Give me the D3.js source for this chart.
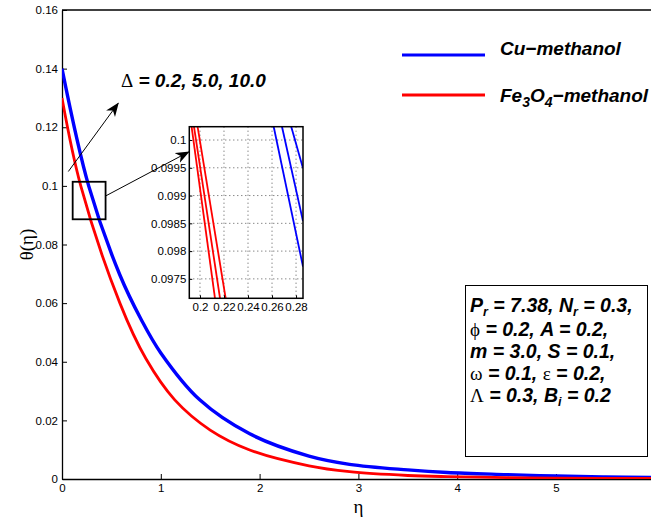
<!DOCTYPE html>
<html><head><meta charset="utf-8">
<script src="https://cdn.jsdelivr.net/npm/d3@7"></script>
<style>body{margin:0;background:#fff} svg{display:block}</style>
</head><body>
<svg id="c" width="651" height="521"></svg>
<script>
// ---- data ----
const etaCu   = [0, 0.27, 0.586, 0.8, 1.0, 1.394, 1.9, 2.5, 2.91, 3.5, 3.9, 4.5, 5.0, 5.5, 6.0];
const thetaCu = [0.140, 0.100, 0.0696, 0.0545, 0.0430, 0.0270, 0.0154, 0.0078, 0.0050, 0.0031, 0.0022, 0.0015, 0.0010, 0.0007, 0.0005];
const etaFe   = [0, 0.19, 0.586, 0.85, 1.141, 1.5, 1.9, 2.5, 2.91, 3.5, 3.9, 4.5, 5.0, 6.0];
const thetaFe = [0.130, 0.100, 0.0600, 0.0410, 0.0270, 0.0167, 0.0099, 0.0045, 0.0025, 0.0012, 0.0008, 0.0005, 0.0003, 0.0002];
const deltaValues = ["0.2", "5.0", "10.0"];
// inset (zoomed) lines, one per Delta value: [eta, theta] end points
const insetCu = [[[0.2614, 0.10024], [0.2858, 0.09772]],
                 [[0.2683, 0.10024], [0.2858, 0.09854]],
                 [[0.2760, 0.10024], [0.2858, 0.09949]]];
const insetFe = [[[0.1930, 0.10024], [0.2125, 0.09715]],
                 [[0.1950, 0.10024], [0.2167, 0.09715]],
                 [[0.1980, 0.10024], [0.2214, 0.09715]]];
const xTicks = [0, 1, 2, 3, 4, 5];
const xTickLabels = ["0", "1", "2", "3", "4", "5"];
const yTicks = [0, 0.02, 0.04, 0.06, 0.08, 0.1, 0.12, 0.14, 0.16];
const yTickLabels = ["0", "0.02", "0.04", "0.06", "0.08", "0.1", "0.12", "0.14", "0.16"];
const insetXTicks = [0.2, 0.22, 0.24, 0.26, 0.28];
const insetXLabels = ["0.2", "0.22", "0.24", "0.26", "0.28"];
const insetYTicks = [0.0975, 0.098, 0.0985, 0.099, 0.0995, 0.1];
const insetYLabels = ["0.0975", "0.098", "0.0985", "0.099", "0.0995", "0.1"];
const zoomRegion = {eta: [0.108, 0.441], theta: [0.0886, 0.1014]};
const arrowDelta = [[0.064, 0.1049], [0.569, 0.1282]];
const arrowZoom  = [[0.444, 0.0966], [1.283, 0.1116]];
const legendNames = ["Cu−methanol", "Fe3O4−methanol"];
const colors = ["#0000ff", "#ff0000"];

// ---- drawing ----
const svg = d3.select("#c");
const SANS = "'Liberation Sans', Arial, Helvetica, sans-serif";
const SERIF = "'Liberation Serif', 'Times New Roman', serif";
const x = d3.scaleLinear().domain([0, 6]).range([62, 654.8]);
const y = d3.scaleLinear().domain([0, 0.16]).range([479, 10]);

const defs = svg.append("defs");
defs.append("clipPath").attr("id", "plotClip").append("rect")
  .attr("x", x(0)).attr("y", y(0.16)).attr("width", x(6) - x(0)).attr("height", y(0) - y(0.16));
defs.append("marker").attr("id", "ah").attr("viewBox", "0 -6 14 12")
  .attr("refX", 13).attr("refY", 0).attr("markerWidth", 14).attr("markerHeight", 12)
  .attr("markerUnits", "userSpaceOnUse").attr("orient", "auto")
  .append("path").attr("d", "M0,-5.5L14,0L0,5.5L4,0Z").attr("fill", "#000");

// axes
const yAxis = d3.axisLeft(y).tickValues(yTicks).tickFormat((d, i) => yTickLabels[i])
  .tickSizeInner(-5).tickSizeOuter(0).tickPadding(4);
const xAxis = d3.axisBottom(x).tickValues(xTicks).tickFormat((d, i) => xTickLabels[i])
  .tickSizeInner(-5).tickSizeOuter(0).tickPadding(5);
const gy = svg.append("g").attr("transform", `translate(${x(0)},0)`).call(yAxis);
const gx = svg.append("g").attr("transform", `translate(0,${y(0)})`).call(xAxis);
[gx, gy].forEach(g => {
  g.selectAll("text").attr("font-family", SANS).attr("font-size", 11.5).attr("fill", "#000");
  g.selectAll("line").attr("stroke", "#000");
  g.select(".domain").attr("stroke", "#000").attr("stroke-width", 1.3);
});
// top and right frame
svg.append("line").attr("x1", x(0)).attr("x2", x(6)).attr("y1", y(0.16)).attr("y2", y(0.16))
  .attr("stroke", "#000").attr("stroke-width", 1.3);
svg.append("line").attr("x1", x(6)).attr("x2", x(6)).attr("y1", y(0.16)).attr("y2", y(0))
  .attr("stroke", "#000").attr("stroke-width", 1.3);

// axis titles
svg.append("text").attr("x", x(3)).attr("y", 513).attr("text-anchor", "middle")
  .attr("font-family", SERIF).attr("font-size", 19).text("η");
svg.append("text").attr("transform", `translate(33,${y(0.08)}) rotate(-90)`).attr("text-anchor", "middle")
  .attr("font-family", SERIF).attr("font-size", 19).text("θ(η)");

// curves
const line = d3.line().x(d => x(d[0])).y(d => y(d[1])).curve(d3.curveCatmullRom.alpha(0.5));
const series = [d3.zip(etaCu, thetaCu), d3.zip(etaFe, thetaFe)];
const curves = svg.append("g").attr("clip-path", "url(#plotClip)");
series.forEach((s, i) => {
  curves.append("path").datum(s).attr("d", line).attr("fill", "none")
    .attr("stroke", colors[i]).attr("stroke-width", i === 0 ? 3.4 : 2.8);
});

// zoom rectangle
svg.append("rect").attr("x", x(zoomRegion.eta[0])).attr("y", y(zoomRegion.theta[1]))
  .attr("width", x(zoomRegion.eta[1]) - x(zoomRegion.eta[0]))
  .attr("height", y(zoomRegion.theta[0]) - y(zoomRegion.theta[1]))
  .attr("fill", "none").attr("stroke", "#000").attr("stroke-width", 1.8);

// arrows
[arrowDelta, arrowZoom].forEach(a => {
  svg.append("line").attr("x1", x(a[0][0])).attr("y1", y(a[0][1]))
    .attr("x2", x(a[1][0])).attr("y2", y(a[1][1]))
    .attr("stroke", "#000").attr("stroke-width", 1).attr("marker-end", "url(#ah)");
});

// Delta label
const dt = svg.append("text").attr("x", 121).attr("y", 87).attr("font-family", SANS)
  .attr("font-size", 19).attr("font-weight", "bold").attr("font-style", "italic");
dt.append("tspan").attr("font-family", SERIF).attr("font-weight", "normal").attr("font-style", "normal").text("Δ");
dt.append("tspan").text(" = " + deltaValues.join(", "));

// ---- inset ----
const xi = d3.scaleLinear().domain([0.1911, 0.2858]).range([189.3, 303]);
const yi = d3.scaleLinear().domain([0.09715, 0.10024]).range([298.3, 126.7]);
const ins = svg.append("g");
defs.append("clipPath").attr("id", "insClip").append("rect")
  .attr("x", xi.range()[0]).attr("y", yi.range()[1])
  .attr("width", xi.range()[1] - xi.range()[0]).attr("height", yi.range()[0] - yi.range()[1]);
ins.append("rect").attr("x", xi.range()[0]).attr("y", yi.range()[1])
  .attr("width", xi.range()[1] - xi.range()[0]).attr("height", yi.range()[0] - yi.range()[1])
  .attr("fill", "#fff");
// grid
ins.selectAll(".gx").data(insetXTicks).join("line")
  .attr("x1", d => xi(d)).attr("x2", d => xi(d)).attr("y1", yi.range()[1]).attr("y2", yi.range()[0])
  .attr("stroke", "#444").attr("stroke-width", 0.9).attr("stroke-dasharray", "1,3");
ins.selectAll(".gy").data(insetYTicks).join("line")
  .attr("y1", d => yi(d)).attr("y2", d => yi(d)).attr("x1", xi.range()[0]).attr("x2", xi.range()[1])
  .attr("stroke", "#444").attr("stroke-width", 0.9).attr("stroke-dasharray", "1,3");
// lines
const lineI = d3.line().x(d => xi(d[0])).y(d => yi(d[1]));
const insLines = ins.append("g").attr("clip-path", "url(#insClip)");
[insetCu, insetFe].forEach((set, i) => {
  set.forEach(seg => {
    insLines.append("path").datum(seg).attr("d", lineI).attr("fill", "none")
      .attr("stroke", colors[i]).attr("stroke-width", 1.8);
  });
});
// inset axes
const yAxI = d3.axisLeft(yi).tickValues(insetYTicks).tickFormat((d, i) => insetYLabels[i])
  .tickSizeInner(-3).tickSizeOuter(0).tickPadding(3);
const xAxI = d3.axisBottom(xi).tickValues(insetXTicks).tickFormat((d, i) => insetXLabels[i])
  .tickSizeInner(-3).tickSizeOuter(0).tickPadding(5);
const gyi = ins.append("g").attr("transform", `translate(${xi.range()[0]},0)`).call(yAxI);
const gxi = ins.append("g").attr("transform", `translate(0,${yi.range()[0]})`).call(xAxI);
[gxi, gyi].forEach(g => {
  g.selectAll("text").attr("font-family", SANS).attr("font-size", 11.5).attr("fill", "#000");
  g.selectAll("line").attr("stroke", "#000");
  g.select(".domain").remove();
});
ins.append("rect").attr("x", xi.range()[0]).attr("y", yi.range()[1])
  .attr("width", xi.range()[1] - xi.range()[0]).attr("height", yi.range()[0] - yi.range()[1])
  .attr("fill", "none").attr("stroke", "#000").attr("stroke-width", 1.5);

// ---- legend ----
const legY = [55, 95];
legY.forEach((ly, i) => {
  svg.append("line").attr("x1", 402).attr("x2", 485).attr("y1", ly).attr("y2", ly)
    .attr("stroke", colors[i]).attr("stroke-width", 3);
});
const l1 = svg.append("text").attr("x", 500).attr("y", 55).attr("font-family", SANS)
  .attr("font-size", 19).attr("font-weight", "bold").attr("font-style", "italic").text(legendNames[0]);
const l2 = svg.append("text").attr("x", 500).attr("y", 101.5).attr("font-family", SANS)
  .attr("font-size", 19).attr("font-weight", "bold").attr("font-style", "italic");
l2.append("tspan").text("Fe");
l2.append("tspan").attr("dy", 5).attr("font-size", 14).text("3");
l2.append("tspan").attr("dy", -5).text("O");
l2.append("tspan").attr("dy", 5).attr("font-size", 14).text("4");
l2.append("tspan").attr("dy", -5).text("−methanol");

// ---- parameter box ----
svg.append("rect").attr("x", 465.5).attr("y", 285.5).attr("width", 182).attr("height", 171)
  .attr("fill", "#fff").attr("stroke", "#000").attr("stroke-width", 1);
const boxLines = [
  [{t: "P"}, {t: "r", sub: 1}, {t: " = 7.38, N"}, {t: "r", sub: 1}, {t: " = 0.3,"}],
  [{t: "ϕ", g: 1}, {t: " = 0.2, A = 0.2,"}],
  [{t: "m = 3.0, S = 0.1,"}],
  [{t: "ω", g: 1}, {t: " = 0.1, "}, {t: "ε", g: 1}, {t: " = 0.2,"}],
  [{t: "Λ", g: 1}, {t: " = 0.3, B"}, {t: "i", sub: 1}, {t: " = 0.2"}]
];
const boxBase = [312, 335.5, 358, 380, 402];
boxLines.forEach((segs, li) => {
  const t = svg.append("text").attr("x", 470).attr("y", boxBase[li]).attr("font-family", SANS)
    .attr("font-size", 19.5).attr("font-weight", "bold").attr("font-style", "italic");
  let shifted = false;
  segs.forEach(s => {
    const sp = t.append("tspan").text(s.t);
    if (s.g) sp.attr("font-family", SERIF).attr("font-weight", "normal").attr("font-style", "normal").attr("font-size", 19);
    if (s.sub && !shifted) { sp.attr("dy", 4).attr("font-size", 12.5); shifted = true; }
    else if (!s.sub && shifted) { sp.attr("dy", -4); shifted = false; }
  });
});
</script>
</body></html>
